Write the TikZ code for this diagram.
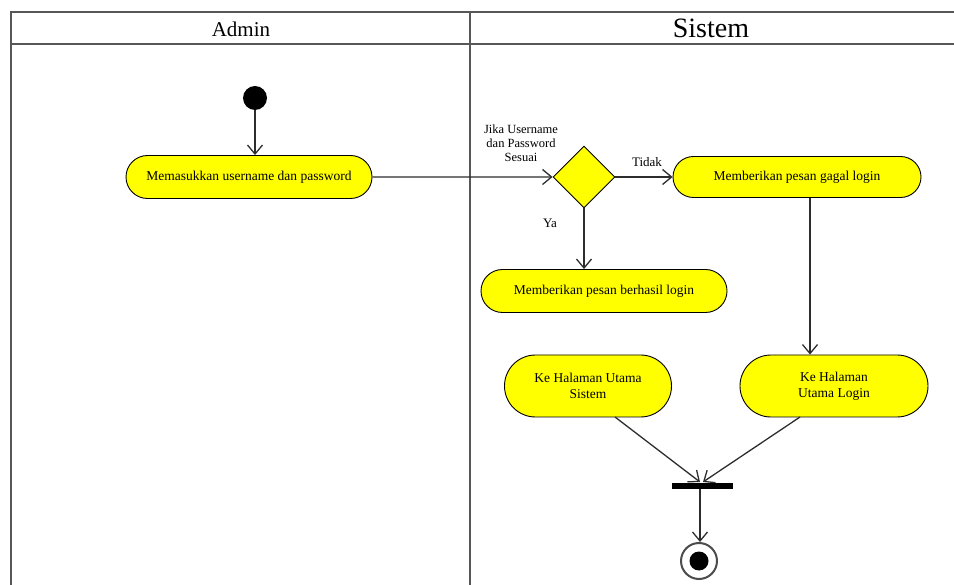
\documentclass[tikz,border=0pt]{standalone}
\usepackage{fontspec}
\setmainfont{Liberation Serif}
\usetikzlibrary{shapes.misc,shapes.geometric,arrows.meta}
\definecolor{actfill}{RGB}{255,255,0}
\definecolor{linegray}{RGB}{45,45,45}
\tikzset{
  activity/.style={rounded rectangle, draw=black, line width=0.9pt, fill=actfill, inner sep=0pt, align=center, font=\fontsize{13.5}{16}\selectfont},
  decision/.style={diamond, draw=black, line width=0.9pt, fill=actfill, minimum width=62pt, minimum height=62pt, inner sep=0pt},
  flow/.style={draw=linegray, line width=1.3pt, -{Straight Barb[length=9pt,width=15pt]}},
  lane/.style={draw=linegray!80, line width=1.5pt},
  lbl/.style={font=\fontsize{12.5}{14}\selectfont, align=center, inner sep=0pt}
}
\begin{document}
\begin{tikzpicture}[x=1pt,y=-1pt]
\useasboundingbox (0,0) rectangle (954,585);
% swimlanes
\coordinate (tl) at (11,12);
\coordinate (tr) at (954,12);
\coordinate (hl) at (11,44);
\coordinate (hr) at (954,44);
\coordinate (bl) at (11,585);
\coordinate (dt) at (470,12);
\coordinate (db) at (470,585);
\draw[lane] (tr) -- (tl) -- (bl);
\draw[lane] (hl) -- (hr);
\draw[lane] (dt) -- (db);
\node[font=\fontsize{21}{24}\selectfont] (h1) at (241,29) {Admin};
\node[font=\fontsize{28}{30}\selectfont] (h2) at (711,28) {Sistem};
% nodes
\node[circle, fill=black, minimum size=24pt, inner sep=0pt] (start) at (255,98) {};
\node[activity, minimum width=246pt, minimum height=43pt] (a1) at (249,177) {Memasukkan username dan password};
\node[decision] (d) at (584,177) {};
\node[lbl] (dl) at (521,143) {Jika Username\\dan Password\\Sesuai};
\node[activity, minimum width=248pt, minimum height=41pt] (gagal) at (797,177) {Memberikan pesan gagal login};
\node[activity, minimum width=246pt, minimum height=43pt] (berhasil) at (604,291) {Memberikan pesan berhasil login};
\node[activity, minimum width=167pt, minimum height=62pt] (sistem) at (588,386) {Ke Halaman Utama\\Sistem};
\node[activity, minimum width=188pt, minimum height=62pt] (login) at (834,386) {Ke Halaman\\Utama Login};
\node[rectangle, fill=black, minimum width=61pt, minimum height=6pt, inner sep=0pt] (bar) at (702,486) {};
\node[circle, draw=black!70, line width=2pt, fill=white, minimum size=36pt, inner sep=0pt] (end) at (699,561) {};
\node[circle, fill=black, minimum size=19pt, inner sep=0pt] (endin) at (699,561) {};
\node[lbl, font=\fontsize{13}{15}\selectfont] (tidak) at (647,162) {Tidak};
\node[lbl, font=\fontsize{13}{15}\selectfont] (ya) at (550,223) {Ya};
% connectors
\draw[flow] (start) -- (start |- a1.north);
\draw[flow] (a1) -- (d);
\draw[flow] (d) -- (gagal);
\draw[flow] (d.south) -- (d.south |- berhasil.north);
\draw[flow] (gagal.south -| 810,0) -- (login.north -| 810,0);
\coordinate (j1) at (700,482);
\coordinate (j2) at (703,482);
\draw[flow] (615,417) -- (j1);
\draw[flow] (800,417) -- (j2);
\draw[flow] (bar.south -| 700,0) -- (end.north -| 700,0);
\end{tikzpicture}
\end{document}
